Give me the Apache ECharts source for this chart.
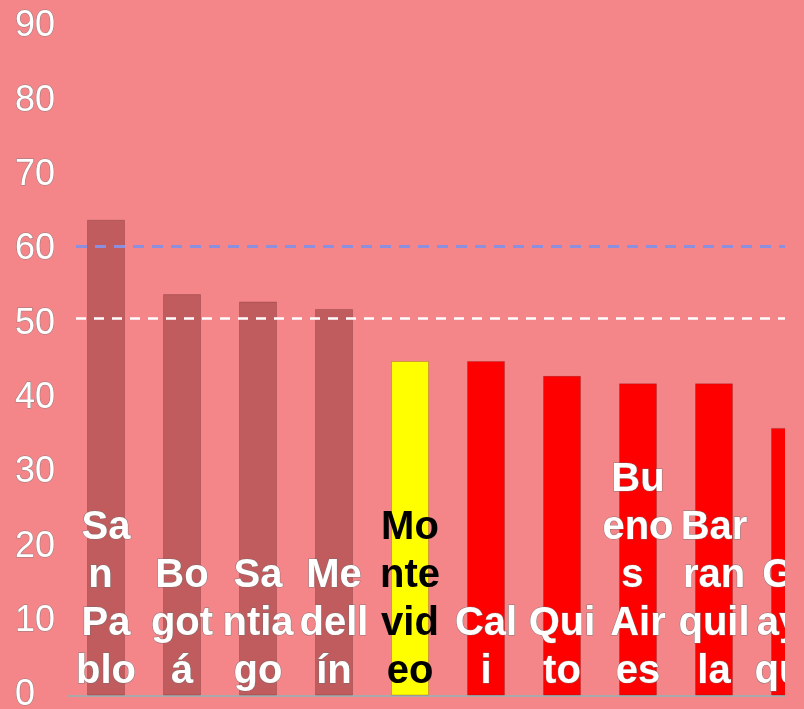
<!DOCTYPE html>
<html>
<head>
<meta charset="utf-8">
<script src="https://cdn.jsdelivr.net/npm/echarts@6/dist/echarts.min.js"></script>
<style>
  html, body { margin: 0; padding: 0; background: #F4868A; overflow: hidden; }
  #chart { width: 785px; height: 709px; }
</style>
</head>
<body>
<div id="chart"></div>
<script>
const categories = ['San Pablo', 'Bogotá', 'Santiago', 'Medellín', 'Montevideo', 'Cali', 'Quito', 'Buenos Aires', 'Barranquilla', 'Guayaquil'];
const values = [64, 54, 53, 52, 45, 45, 43, 42, 42, 36];
const refLines = [60.5, 50.7];
const yTicks = [0, 90, 10]; // min, max, interval

const barColors = ['#C05C5E', '#C05C5E', '#C05C5E', '#C05C5E', '#FFFF00', '#FF0000', '#FF0000', '#FF0000', '#FF0000', '#FF0000'];
const labelColors = ['#FFFFFF', '#FFFFFF', '#FFFFFF', '#FFFFFF', '#000000', '#FFFFFF', '#FFFFFF', '#FFFFFF', '#FFFFFF', '#FFFFFF'];

const chart = echarts.init(document.getElementById('chart'), null, { renderer: 'canvas' });

const seriesData = values.map((v, i) => ({
  value: v,
  itemStyle: { color: barColors[i] },
  label: {
    color: labelColors[i],
    textBorderColor: labelColors[i] === '#000000' ? 'transparent' : 'rgba(110,110,110,0.75)',
    textBorderWidth: labelColors[i] === '#000000' ? 0 : 1
  }
}));

chart.setOption({
  backgroundColor: '#F4868A',
  animation: false,
  grid: { left: 68, top: 26.5, width: 760, bottom: 13.5, containLabel: false, outerBoundsMode: 'none' },
  xAxis: {
    type: 'category',
    data: categories,
    axisLabel: { show: false },
    axisTick: { show: false },
    axisLine: { show: true, lineStyle: { color: '#A9A9A9', width: 2 } },
    splitLine: { show: false }
  },
  yAxis: {
    type: 'value',
    min: yTicks[0],
    max: yTicks[1],
    interval: yTicks[2],
    axisLine: { show: false },
    axisTick: { show: false },
    splitLine: { show: false },
    axisLabel: {
      align: 'left',
      margin: 53,
      color: '#FFFFFF',
      fontFamily: 'Liberation Sans, Arial, sans-serif',
      fontSize: 36,
      padding: [5, 0, 0, 0],
      textBorderColor: 'rgba(120,120,120,0.8)',
      textBorderWidth: 1
    }
  },
  series: [{
    type: 'bar',
    data: seriesData,
    barWidth: 38,
    itemStyle: { borderColor: 'rgba(90,30,30,0.25)', borderWidth: 1 },
    label: {
      show: true,
      position: 'insideBottom',
      distance: 0,
      formatter: '{b}',
      fontFamily: 'Liberation Sans, Arial, sans-serif',
      fontWeight: 'bold',
      fontSize: 40,
      lineHeight: 48,
      width: 72,
      overflow: 'break',
      align: 'center'
    },
    markLine: {
      silent: true,
      symbol: 'none',
      label: { show: false },
      z: 10,
      data: [
        { yAxis: refLines[0], lineStyle: { color: '#8C8EDE', width: 3, type: [11, 8], dashOffset: 11 } },
        { yAxis: refLines[1], lineStyle: { color: '#FFFFFF', width: 2.5, type: [10, 8], dashOffset: 10 } }
      ]
    }
  }]
});
</script>
</body>
</html>
